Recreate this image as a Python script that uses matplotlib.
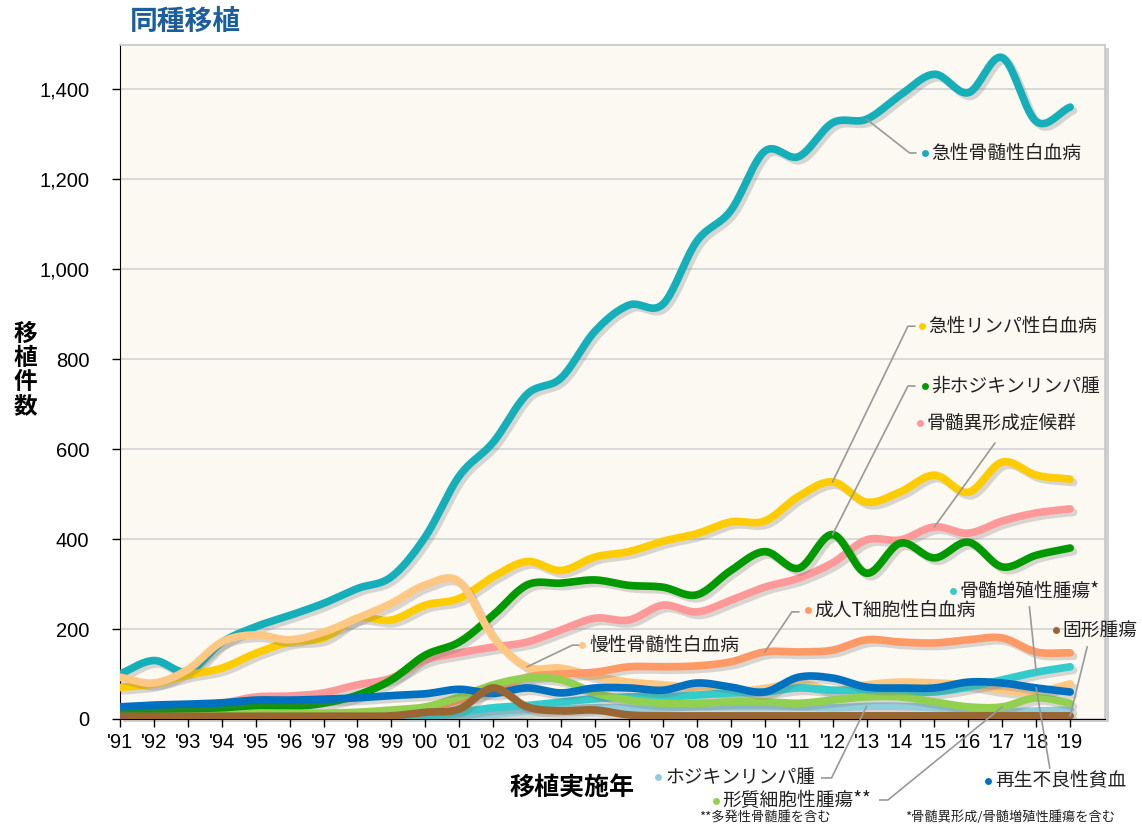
import numpy as np
import matplotlib
matplotlib.use("Agg")
import matplotlib.pyplot as plt
import matplotlib.patheffects as pe
from matplotlib.patches import Rectangle
from matplotlib.ticker import FuncFormatter

# ---------------- data ----------------
years = ["'91", "'92", "'93", "'94", "'95", "'96", "'97", "'98", "'99", "'00",
         "'01", "'02", "'03", "'04", "'05", "'06", "'07", "'08", "'09", "'10",
         "'11", "'12", "'13", "'14", "'15", "'16", "'17", "'18", "'19"]

aml = [100, 130, 105, 170, 205, 230, 257, 290, 316, 405, 540, 615, 722, 758, 862,
       920, 922, 1062, 1130, 1262, 1250, 1325, 1333, 1387, 1433, 1392, 1470, 1328, 1360]
all_ = [70, 78, 98, 113, 146, 171, 180, 224, 220, 253, 268, 316, 350, 330, 360,
        372, 395, 412, 438, 440, 495, 527, 482, 505, 542, 504, 571, 542, 533]
mds = [20, 25, 30, 35, 49, 51, 58, 76, 91, 131, 147, 160, 171, 198, 224,
       220, 253, 238, 264, 293, 313, 347, 398, 398, 427, 413, 440, 458, 467]
nhl = [13, 16, 18, 22, 29, 27, 35, 53, 87, 142, 171, 231, 298, 302, 309,
       297, 293, 276, 330, 372, 335, 410, 324, 391, 358, 393, 338, 364, 380]
cml = [93, 80, 110, 171, 187, 176, 193, 224, 257, 298, 305, 182, 116, 113, 95,
       82, 76, 68, 60, 68, 80, 64, 76, 82, 80, 76, 64, 60, 78]
atl = [4, 4, 4, 4, 4, 4, 5, 8, 15, 24, 42, 64, 93, 100, 104,
       116, 116, 118, 127, 149, 149, 153, 176, 171, 169, 176, 180, 149, 147]
hodgkin = [3, 3, 3, 3, 3, 3, 3, 3, 3, 4, 6, 10, 18, 22, 25,
           24, 24, 27, 27, 27, 27, 25, 28, 28, 25, 18, 16, 18, 20]
mpn = [3, 3, 3, 3, 3, 3, 3, 3, 3, 5, 15, 25, 30, 38, 45,
       49, 49, 53, 58, 60, 69, 64, 64, 60, 60, 71, 87, 104, 116]
myeloma = [5, 5, 6, 8, 13, 13, 13, 15, 20, 27, 49, 76, 91, 87, 58,
           42, 35, 35, 38, 38, 35, 42, 49, 49, 38, 27, 27, 47, 35]
aa = [27, 31, 33, 36, 42, 42, 44, 47, 52, 56, 66, 57, 69, 58, 69,
      69, 64, 80, 71, 60, 93, 91, 71, 69, 69, 82, 80, 69, 60]
solid = [6, 6, 6, 6, 6, 6, 6, 6, 7, 15, 22, 69, 27, 18, 20,
         9, 7, 7, 7, 7, 7, 7, 7, 7, 7, 7, 7, 7, 7]

names = {
    "aml": "急性骨髄性白血病", "all": "急性リンパ性白血病", "nhl": "非ホジキンリンパ腫",
    "mds": "骨髄異形成症候群", "mpn": "骨髄増殖性腫瘍*", "solid": "固形腫瘍",
    "atl": "成人T細胞性白血病", "cml": "慢性骨髄性白血病", "hodgkin": "ホジキンリンパ腫",
    "myeloma": "形質細胞性腫瘍**", "aa": "再生不良性貧血",
}
colors = {
    "aml": "#14AFB8", "all": "#FFCC00", "nhl": "#009900", "mds": "#FF9999",
    "cml": "#FFC882", "atl": "#FF9966", "hodgkin": "#92CDDC", "mpn": "#33CCCC",
    "myeloma": "#92D050", "aa": "#0070C0", "solid": "#996633",
}
series = {"aml": aml, "all": all_, "mds": mds, "nhl": nhl, "cml": cml, "atl": atl,
          "hodgkin": hodgkin, "mpn": mpn, "myeloma": myeloma, "aa": aa, "solid": solid}
draw_order = ["aml", "all", "mds", "nhl", "cml", "atl", "hodgkin", "mpn", "myeloma", "aa", "solid"]

JP = ["Noto Sans CJK JP", "DejaVu Sans"]
LAT = ["Liberation Sans", "DejaVu Sans"]


def smooth(xv, yv, n=20):
    pts = np.column_stack([xv, yv]).astype(float)
    P = np.vstack([2 * pts[0] - pts[1], pts, 2 * pts[-1] - pts[-2]])
    t = np.linspace(0, 1, n, endpoint=False)[:, None]
    out = []
    for i in range(1, len(P) - 2):
        p0, p1, p2, p3 = P[i - 1], P[i], P[i + 1], P[i + 2]
        seg = 0.5 * ((2 * p1) + (-p0 + p2) * t + (2 * p0 - 5 * p1 + 4 * p2 - p3) * t ** 2
                     + (-p0 + 3 * p1 - 3 * p2 + p3) * t ** 3)
        out.append(seg)
    out.append(pts[-1:])
    return np.vstack(out)


fig = plt.figure(figsize=(11.42, 8.27), dpi=100)
fig.patch.set_facecolor("white")
ax_l, ax_b, ax_w, ax_h = 0.105, 0.1306, 0.8627, 0.815
# plot-area shadow
fig.patches.append(Rectangle((ax_l + 0.003, ax_b - 0.004), ax_w, ax_h, transform=fig.transFigure,
                             facecolor="#C4C4C4", edgecolor="none", zorder=0, alpha=0.8))
ax = fig.add_axes([ax_l, ax_b, ax_w, ax_h])
ax.set_facecolor("#FCF8F2")
ax.set_zorder(1)

x = np.arange(len(years))
ax.set_xlim(0, 29.03)
ax.set_ylim(0, 1498)

for s in ["top", "right"]:
    ax.spines[s].set_color("#C8C8C8")
    ax.spines[s].set_linewidth(1.2)
ax.spines["left"].set_color("black")
ax.spines["bottom"].set_color("black")

ax.set_yticks(range(0, 1401, 200))
ax.yaxis.set_major_formatter(FuncFormatter(lambda v, p: f"{int(v):,}"))
ax.set_xticks(x)
ax.set_xticklabels(years)
ax.tick_params(axis="y", length=6, width=1, pad=16, labelsize=14.5, direction="out")
ax.tick_params(axis="x", length=6, width=1, pad=4, labelsize=14.5, direction="out")
for lab in ax.get_xticklabels() + ax.get_yticklabels():
    lab.set_fontfamily(LAT)
ax.grid(axis="y", color="#D3D3D3", linewidth=1.2)
ax.set_axisbelow(True)

shadow = [pe.SimpleLineShadow(offset=(2.5, -2.5), shadow_color="#707070", alpha=0.25), pe.Normal()]
for i, k in enumerate(draw_order):
    pts = smooth(x, series[k])
    ax.plot(pts[:, 0], pts[:, 1], color=colors[k], lw=5.5, solid_capstyle="round",
            solid_joinstyle="round", path_effects=shadow, zorder=3 + i)

# --------------- labels with leader lines ---------------
LEAD = "#999999"


def label(key, idx, path, dot, fs=13.5):
    pts = [(x[idx], series[key][idx])] + path
    xs, ys = zip(*pts)
    ax.plot(xs, ys, color=LEAD, lw=1.2, zorder=20, clip_on=False)
    ax.plot([dot[0]], [dot[1]], "o", ms=5, color=colors[key], mec="none", zorder=21, clip_on=False)
    ax.text(dot[0] + 0.2, dot[1], names[key], fontsize=fs, family=JP, va="center", ha="left",
            color="#222222", zorder=21, clip_on=False)


label("aml", 22, [(23.27, 1258), (23.45, 1258)], (23.72, 1258))
label("all", 21, [(23.22, 873), (23.42, 873)], (23.63, 873))
label("nhl", 21, [(23.22, 740), (23.42, 740)], (23.72, 740))
label("mds", 24, [(25.78, 613)], (23.57, 658))
label("mpn", 27, [(26.8, 249)], (24.54, 284))
label("solid", 28, [(28.5, 160)], (27.58, 198))
label("atl", 19, [(19.8, 238), (20.0, 238)], (20.27, 242))
label("cml", 12, [(13.33, 164), (13.54, 164)], (13.63, 164))
label("hodgkin", 22, [(20.97, -131), (20.68, -131)], (15.87, -129))
label("myeloma", 26, [(22.63, -180), (22.39, -180)], (17.55, -182))
label("aa", 27, [(27.4, -109)], (25.58, -138))

ax.text(17.08, -220, "**多発性骨髄腫を含む", fontsize=9.5, family=JP, va="center", ha="left",
        color="#222222", clip_on=False)
ax.text(23.13, -218, "*骨髄異形成/骨髄増殖性腫瘍を含む", fontsize=9.5, family=JP, va="center",
        ha="left", color="#222222", clip_on=False)

# --------------- titles ---------------
fig.text(130 / 1142, 1 - 22 / 827, "同種移植", fontsize=20, fontweight="bold", family=JP,
         color="#1B5E9E", ha="left", va="center")
fig.text(25 / 1142, 1 - 370 / 827, "移\n植\n件\n数", fontsize=17, fontweight="bold", family=JP,
         ha="center", va="center", linespacing=1.0)
fig.text(572 / 1142, 1 - 788 / 827, "移植実施年", fontsize=18, fontweight="bold", family=JP,
         ha="center", va="center")

fig.savefig("out.png", dpi=100)
